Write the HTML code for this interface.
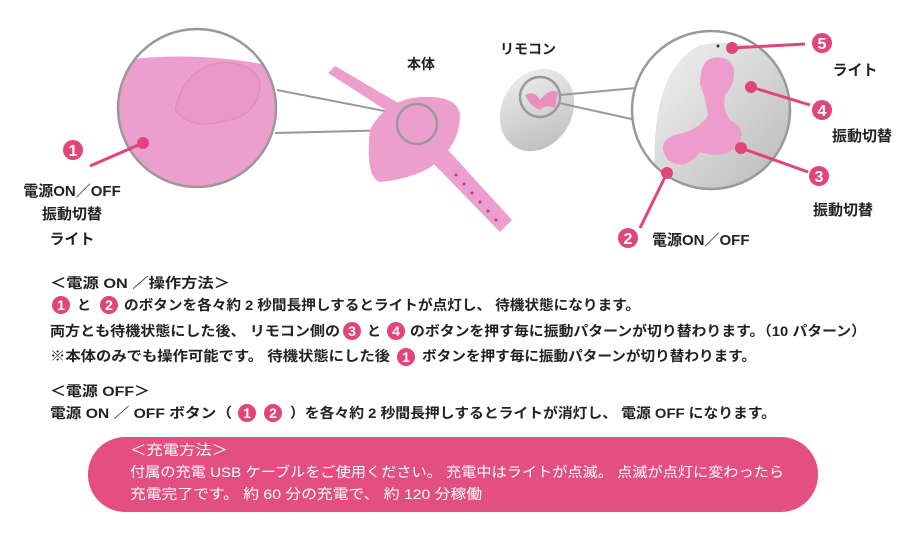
<!DOCTYPE html>
<html><head><meta charset="utf-8"><style>
html,body{margin:0;padding:0;background:#fff;width:922px;height:539px;overflow:hidden}
svg{display:block}
text{font-family:"Liberation Sans","Noto Sans CJK JP",sans-serif;font-weight:bold;fill:#222}
.w{fill:#fff;font-weight:normal}
</style></head><body>
<svg width="922" height="539" viewBox="0 0 922 539">
<defs>
<clipPath id="cl"><circle cx="197" cy="108" r="79"/></clipPath>
<clipPath id="cr"><circle cx="711" cy="110" r="79"/></clipPath>
<linearGradient id="gr" x1="0" y1="0" x2="1" y2="1"><stop offset="0" stop-color="#f2f2f2"/><stop offset="0.5" stop-color="#d6d6d6"/><stop offset="1" stop-color="#b8b8b8"/></linearGradient>
</defs>
<line x1="277" y1="90" x2="400" y2="114" stroke="#999" stroke-width="2"/>
<line x1="275" y1="133" x2="400" y2="130" stroke="#999" stroke-width="2"/>
<g clip-path="url(#cl)">
<rect x="100" y="20" width="200" height="200" fill="#fff"/>
<path d="M110 62 Q200 48 290 70 L290 200 L110 200Z" fill="#ec9fcc"/>
<path d="M175 110 Q185 65 225 62 Q262 65 260 90 Q255 118 220 122 Q190 130 175 110Z" fill="#e897c6" stroke="#d88bb8" stroke-width="1"/>
</g>
<circle cx="197" cy="108" r="79" fill="none" stroke="#999" stroke-width="2.5"/>
<line x1="90" y1="166" x2="143" y2="143" stroke="#e0457b" stroke-width="3"/>
<circle cx="143" cy="143" r="6" fill="#e0457b"/>
<circle cx="73" cy="150" r="10" fill="#e0457b"/><text x="73" y="156" class="w" text-anchor="middle" font-size="16" style="font-weight:bold">1</text>
<text x="72" y="196" text-anchor="middle" font-size="15">電源ON／OFF</text>
<text x="72" y="219" text-anchor="middle" font-size="15">振動切替</text>
<text x="72" y="244" text-anchor="middle" font-size="15">ライト</text>
<text x="421" y="69" text-anchor="middle" font-size="14">本体</text>
<path d="M328 73 L335 66 L400 104 L392 114Z" fill="#ec9fcc"/>
<path d="M370 130 Q385 100 420 97 Q458 95 460 115 Q460 140 440 160 Q420 178 380 182 Q365 178 370 130Z" fill="#ec9fcc"/>
<path d="M430 160 L448 150 L512 220 L500 232Z" fill="#ec9fcc"/>
<g fill="#b04080"><circle cx="456" cy="175" r="1.5"/><circle cx="464" cy="184" r="1.5"/><circle cx="472" cy="193" r="1.5"/><circle cx="480" cy="202" r="1.5"/><circle cx="488" cy="211" r="1.5"/><circle cx="496" cy="220" r="1.5"/></g>
<circle cx="417" cy="124" r="20" fill="none" stroke="#999" stroke-width="2.5"/>
<text x="528" y="54" text-anchor="middle" font-size="14">リモコン</text>
<ellipse cx="537" cy="110" rx="35" ry="43" transform="rotate(30 537 110)" fill="url(#gr)"/>
<path d="M525 95 Q535 90 540 100 Q550 88 558 92 L555 108 Q545 104 540 110 Q530 106 525 95Z" fill="#e88fc0"/>
<circle cx="540" cy="97" r="20" fill="none" stroke="#999" stroke-width="2.5"/>
<line x1="560" y1="95" x2="636" y2="88" stroke="#999" stroke-width="2"/>
<line x1="559" y1="103" x2="636" y2="120" stroke="#999" stroke-width="2"/>
<g clip-path="url(#cr)">
<rect x="620" y="20" width="200" height="200" fill="#fff"/>
<path d="M655 175 Q650 70 700 45 Q760 35 785 70 Q795 120 780 185 Q720 200 655 175Z" fill="url(#gr)"/>
<path d="M713 58 Q730 55 734 70 Q735 85 725 95 Q722 110 730 120 Q748 128 738 145 Q725 160 700 152 Q685 172 668 160 Q655 142 675 135 Q700 130 708 115 Q705 95 700 85 Q700 60 713 58Z" fill="#ee9ccb"/>
<circle cx="718" cy="46" r="1.5" fill="#333"/>
</g>
<circle cx="711" cy="110" r="79" fill="none" stroke="#999" stroke-width="2.5"/>
<g stroke="#e0457b" stroke-width="3">
<line x1="732" y1="48" x2="805" y2="44"/><line x1="751" y1="87" x2="810" y2="105"/><line x1="741" y1="148" x2="808" y2="172"/><line x1="667" y1="173" x2="640" y2="228"/></g>
<g fill="#e0457b"><circle cx="732" cy="48" r="6"/><circle cx="751" cy="87" r="6"/><circle cx="741" cy="148" r="6"/><circle cx="667" cy="173" r="6"/>
<circle cx="822" cy="43" r="10"/><circle cx="822" cy="110" r="10"/><circle cx="819" cy="176" r="10"/><circle cx="628" cy="238" r="10"/></g>
<g font-size="16" text-anchor="middle"><text class="w" x="822" y="49" style="font-weight:bold">5</text><text class="w" x="822" y="116" style="font-weight:bold">4</text><text class="w" x="819" y="182" style="font-weight:bold">3</text><text class="w" x="628" y="244" style="font-weight:bold">2</text></g>
<text x="855" y="75" text-anchor="middle" font-size="15">ライト</text>
<text x="862" y="141" text-anchor="middle" font-size="15">振動切替</text>
<text x="843" y="215" text-anchor="middle" font-size="15">振動切替</text>
<text x="652" y="245" font-size="15">電源ON／OFF</text>
<g font-size="14">
<text x="50" y="288" textLength="180" lengthAdjust="spacingAndGlyphs">＜電源 ON ／操作方法＞</text>
<circle cx="61" cy="305" r="9" fill="#e0457b"/><text x="61" y="310" class="w" text-anchor="middle" style="font-weight:bold">1</text>
<text x="77" y="310">と</text>
<circle cx="109" cy="305" r="9" fill="#e0457b"/><text x="109" y="310" class="w" text-anchor="middle" style="font-weight:bold">2</text>
<text x="124" y="310" textLength="516" lengthAdjust="spacingAndGlyphs">のボタンを各々約 2 秒間長押しするとライトが点灯し、 待機状態になります。</text>
<text x="50" y="336" textLength="290" lengthAdjust="spacingAndGlyphs">両方とも待機状態にした後、 リモコン側の</text>
<circle cx="352" cy="331" r="9" fill="#e0457b"/><text x="352" y="336" class="w" text-anchor="middle" style="font-weight:bold">3</text>
<text x="367" y="336">と</text>
<circle cx="396" cy="331" r="9" fill="#e0457b"/><text x="396" y="336" class="w" text-anchor="middle" style="font-weight:bold">4</text>
<text x="410" y="336" textLength="456" lengthAdjust="spacingAndGlyphs">のボタンを押す毎に振動パターンが切り替わります。（10 パターン）</text>
<text x="50" y="361" textLength="340" lengthAdjust="spacingAndGlyphs">※本体のみでも操作可能です。 待機状態にした後</text>
<circle cx="406" cy="357" r="9" fill="#e0457b"/><text x="406" y="362" class="w" text-anchor="middle" style="font-weight:bold">1</text>
<text x="422" y="361" textLength="334" lengthAdjust="spacingAndGlyphs">ボタンを押す毎に振動パターンが切り替わります。</text>
<text x="50" y="396" textLength="100" lengthAdjust="spacingAndGlyphs">＜電源 OFF＞</text>
<text x="50" y="418" textLength="182" lengthAdjust="spacingAndGlyphs">電源 ON ／ OFF ボタン（</text>
<circle cx="247" cy="413" r="9" fill="#e0457b"/><text x="247" y="418" class="w" text-anchor="middle" style="font-weight:bold">1</text>
<circle cx="273" cy="413" r="9" fill="#e0457b"/><text x="273" y="418" class="w" text-anchor="middle" style="font-weight:bold">2</text>
<text x="290" y="418" textLength="486" lengthAdjust="spacingAndGlyphs">）を各々約 2 秒間長押しするとライトが消灯し、 電源 OFF になります。</text>
</g>
<rect x="88" y="437" width="730" height="75" rx="37" fill="#e34f81"/>
<g font-size="14">
<text class="w" x="130" y="455" textLength="98" lengthAdjust="spacingAndGlyphs">＜充電方法＞</text>
<text class="w" x="130" y="477" textLength="654" lengthAdjust="spacingAndGlyphs">付属の充電 USB ケーブルをご使用ください。 充電中はライトが点滅。 点滅が点灯に変わったら</text>
<text class="w" x="130" y="499" textLength="352" lengthAdjust="spacingAndGlyphs">充電完了です。 約 60 分の充電で、 約 120 分稼働</text>
</g>
</svg>
</body></html>
